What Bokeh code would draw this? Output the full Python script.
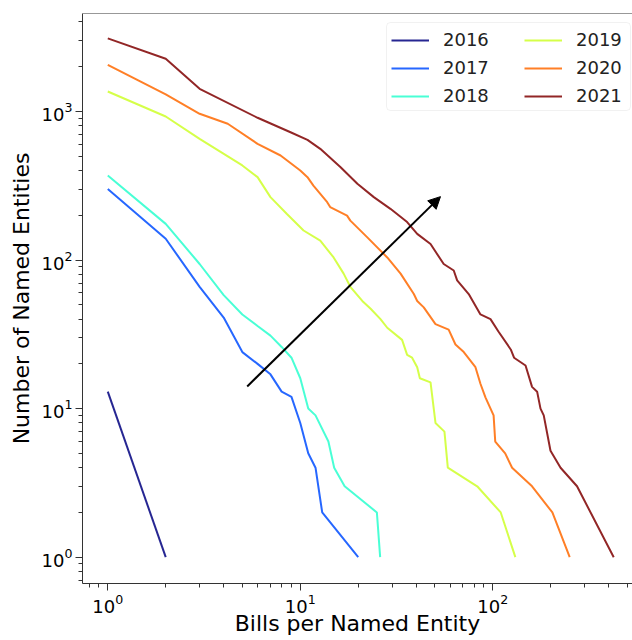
from bokeh.plotting import figure
from bokeh.models import Range1d, Arrow, NormalHead, Legend, LegendItem, BoxAnnotation, Span
from bokeh.embed import file_html
from bokeh.resources import INLINE

# ---- data ----
years = ["2016", "2017", "2018", "2019", "2020", "2021"]

x_2016 = [1, 2]
y_2016 = [13, 1]

x_2017 = [1, 2, 3, 4, 5, 6, 7, 8, 9, 10, 11, 12, 13, 20]
y_2017 = [301, 139, 66, 41, 24, 20, 17, 13, 12, 8, 5, 4, 2, 1]

x_2018 = [1, 2, 3, 4, 5, 6, 7, 8, 9, 10, 11, 12, 14, 15, 17, 25, 26]
y_2018 = [370, 175, 94, 58, 43, 36, 31, 26, 22, 16, 10, 9, 6, 4, 3, 2, 1]

x_2019 = [1, 2, 3, 5, 6, 7, 8.5, 10.4, 12.7, 14.9, 16.8, 18.2, 21, 23.2, 26.1,
          28.3, 33.8, 35.9, 38.1, 40.5, 41.8, 47.5, 50.4, 56.1, 58.4, 83, 110, 131]
y_2019 = [1361, 924, 654, 433, 361, 265, 205, 158, 135, 104, 81, 66, 53, 47, 40,
          35, 29, 23, 22, 19, 16, 15, 8, 7, 4, 3, 2, 1]

x_2020 = [1, 2, 3, 4.2, 6, 7.9, 10, 10.9, 11.7, 13.8, 14.3, 17.5, 18.2, 22.3, 28.3,
          33.2, 38.9, 40.5, 43.8, 50.4, 59, 64, 70.7, 81.3, 86.3, 91.6, 101, 103,
          116, 126, 160, 204, 251]
y_2020 = [2060, 1300, 964, 826, 605, 505, 400, 361, 317, 245, 227, 199, 184, 142, 104,
          81, 59, 53, 48, 37, 34, 27, 24, 19, 14.7, 11.9, 9, 6,
          5, 4, 3, 2, 1]

x_2021 = [1, 2, 3, 6, 8.9, 10.9, 12.7, 16.2, 19.8, 24.1, 29.4, 35.9, 40.5, 47.5, 55.6,
          62.7, 65.3, 75, 86.3, 97.3, 107, 124, 129, 148, 160, 170, 177, 184, 199.5,
          225, 274, 425]
y_2021 = [3100, 2260, 1419, 906, 724, 644, 560, 421, 326, 265, 221, 180, 150, 128, 94,
          85, 73, 59, 43, 40, 33, 25, 22, 19.5, 14, 13, 10, 9, 5.2,
          4, 3, 1]

series_x = [x_2016, x_2017, x_2018, x_2019, x_2020, x_2021]
series_y = [y_2016, y_2017, y_2018, y_2019, y_2020, y_2021]

# arrow annotation endpoints (data coordinates)
arrow_x = [5.3, 53.5]
arrow_y = [14.1, 267]

colors = ["#00007f", "#004cff", "#29ffce", "#ceff29", "#ff6800", "#7f0000"]

x_title = "Bills per Named Entity"
y_title = "Number of Named Entities"

FONT = "DejaVu Sans"

Y_TOP = 4560
p = figure(width=632, height=640, x_axis_type="log", y_axis_type="log",
           output_backend="svg", toolbar_location=None,
           x_range=Range1d(0.739, 532), y_range=Range1d(0.665, Y_TOP),
           min_border_left=82, min_border_right=0, min_border_top=13, min_border_bottom=57)

renderers = []
for xs, ys, c in zip(series_x, series_y, colors):
    r = p.line(xs, ys, line_color=c, line_width=2, line_alpha=0.85)
    renderers.append(r)

p.add_layout(Arrow(end=NormalHead(size=12, fill_color="black", line_color="black", line_width=1),
                   x_start=arrow_x[0], y_start=arrow_y[0], x_end=arrow_x[1], y_end=arrow_y[1],
                   line_color="black", line_width=2))

# top spine (the right spine lies outside the picture in the reference)
p.add_layout(Span(location=Y_TOP, dimension="width", line_color="#333333", line_width=1))

# legend frame (two columns drawn as two borderless legends inside one box)
p.add_layout(BoxAnnotation(left=304, right=548, top=561, bottom=473,
                           left_units="screen", right_units="screen",
                           top_units="screen", bottom_units="screen",
                           fill_color="white", fill_alpha=0.85,
                           line_color="#d0d0d0", line_width=1, border_radius=4))


def make_legend(idx, loc):
    lg = Legend(items=[LegendItem(label=years[i], renderers=[renderers[i]]) for i in idx],
                location=loc)
    lg.label_text_font = FONT
    lg.label_text_font_size = "18px"
    lg.label_text_color = "#222222"
    lg.glyph_width = 38
    lg.glyph_height = 20
    lg.label_height = 20
    lg.label_standoff = 14
    lg.spacing = 7
    lg.padding = 7
    lg.margin = 0
    lg.border_line_color = None
    lg.background_fill_alpha = 0
    return lg


p.add_layout(make_legend([0, 1, 2], (309, 477)))
p.add_layout(make_legend([3, 4, 5], (442, 477)))

p.xgrid.grid_line_color = None
p.ygrid.grid_line_color = None
p.outline_line_color = None

for ax in (p.xaxis[0], p.yaxis[0]):
    ax.major_label_text_font = FONT
    ax.major_label_text_font_size = "18px"
    ax.major_label_text_color = "black"
    ax.axis_label_text_font = FONT
    ax.axis_label_text_font_size = "22px"
    ax.axis_label_text_font_style = "normal"
    ax.axis_label_text_color = "black"
    ax.axis_line_color = "#333333"
    ax.major_tick_line_color = "#333333"
    ax.minor_tick_line_color = "#333333"
    ax.major_tick_out = 7
    ax.major_tick_in = 0
    ax.minor_tick_out = 4
    ax.minor_tick_in = 0
    ax.major_label_standoff = 3

p.yaxis.axis_label = y_title
p.yaxis.axis_label_standoff = 5
p.xaxis.axis_label = x_title
p.xaxis.axis_label_standoff = -5

open("out.html", "w").write(file_html(p, INLINE))
